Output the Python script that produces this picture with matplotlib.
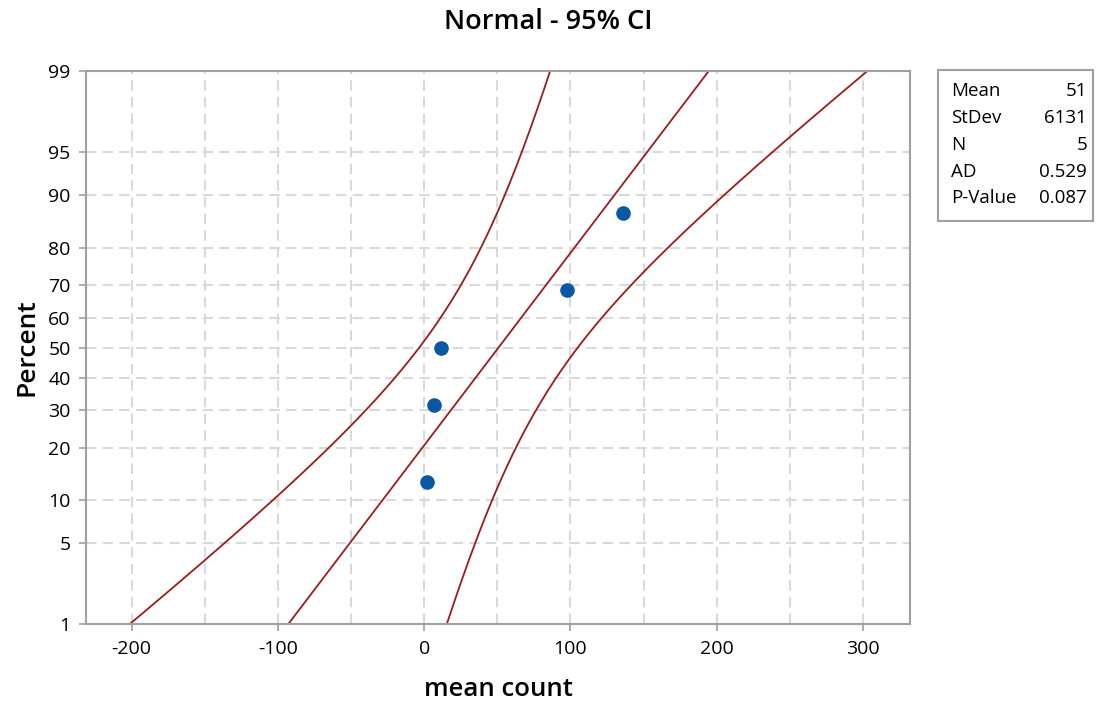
import matplotlib
matplotlib.use("Agg")
import matplotlib.pyplot as plt
import numpy as np
from statistics import NormalDist

plt.rcParams['font.family'] = ['Open Sans', 'DejaVu Sans']

# sample values (read from the plotted points)
values = np.array([2.0, 7.0, 11.5, 97.5, 136.0])
stat_names = ['Mean', 'StDev', 'N', 'AD', 'P-Value']
stat_values = ['51', '6131', '5', '0.529', '0.087']
pct_ticks = [1, 5, 10, 20, 30, 40, 50, 60, 70, 80, 90, 95, 99]
x_major = [-200, -100, 0, 100, 200, 300]
x_minor = [-150, -50, 50, 150, 250]

W, H = 1097, 701
nd = NormalDist()

def px(x, y):
    return x / W, 1 - y / H

n = len(values)
mu = values.mean()
sd = values.std(ddof=1)
ranks = (np.arange(1, n + 1) - 0.3) / (n + 0.4)
z_pts = np.array([nd.inv_cdf(p) for p in ranks])

zz = np.linspace(-2.8, 2.8, 400)
fit = mu + zz * sd
half = 1.96 * sd * np.sqrt(1 / n + zz ** 2 / (2 * n - 1))

fig = plt.figure(figsize=(W / 100, H / 100), dpi=100)
ax = fig.add_axes([86 / W, (H - 624.3) / H, (910 - 86) / W, (624.3 - 71) / H])

line_col = '#9b1c1c'
ax.plot(fit, zz, color=line_col, lw=1.3)
ax.plot(fit - half, zz, color=line_col, lw=1.3)
ax.plot(fit + half, zz, color=line_col, lw=1.3)
ax.plot(np.sort(values), z_pts, 'o', color='#0b57a4', ms=9.5, zorder=5)

ax.set_xlim(-231.2, 332.2)
ax.set_ylim(nd.inv_cdf(0.01), nd.inv_cdf(0.99))

ax.set_xticks(x_major)
ax.set_xticks(x_minor, minor=True)
ax.set_xticklabels([str(v) for v in x_major])
ax.set_yticks([nd.inv_cdf(p / 100) for p in pct_ticks])
ax.set_yticklabels([str(p) for p in pct_ticks])

grid_kw = dict(color='#d9d9d9', lw=1.5, ls=(0, (5, 3)), zorder=0)
for v in x_major + x_minor:
    ax.axvline(v, **grid_kw)
for p in pct_ticks[1:-1]:
    ax.axhline(nd.inv_cdf(p / 100), **grid_kw)

for s in ax.spines.values():
    s.set_color('#a0a0a0')
    s.set_linewidth(1.5)
ax.tick_params(which='both', direction='out', length=5, width=1.2, color='#a0a0a0',
               labelsize=14, labelcolor='black', pad=6)
ax.tick_params(which='minor', length=0)

ax.set_xlabel('mean count', fontsize=18.5, fontweight='semibold', labelpad=14)
ax.set_ylabel('Percent', fontsize=19, fontweight='semibold', labelpad=6)
fig.text(*px(548, 22), 'Normal - 95% CI', fontsize=19.5, fontweight='semibold',
         ha='center', va='center')

# statistics box
leg = fig.add_axes([937.5 / W, (H - 220.8) / H, 155 / W, 151 / H])
leg.set_xticks([])
leg.set_yticks([])
for s in leg.spines.values():
    s.set_color('#a0a0a0')
    s.set_linewidth(1.5)
row_y = [90.5, 117.7, 145, 172, 197.7]
for name, val, y in zip(stat_names, stat_values, row_y):
    fig.text(*px(951, y), name, fontsize=13.5, ha='left', va='center')
    fig.text(*px(1087, y), val, fontsize=13.5, ha='right', va='center')

fig.savefig('out.png', dpi=100)
